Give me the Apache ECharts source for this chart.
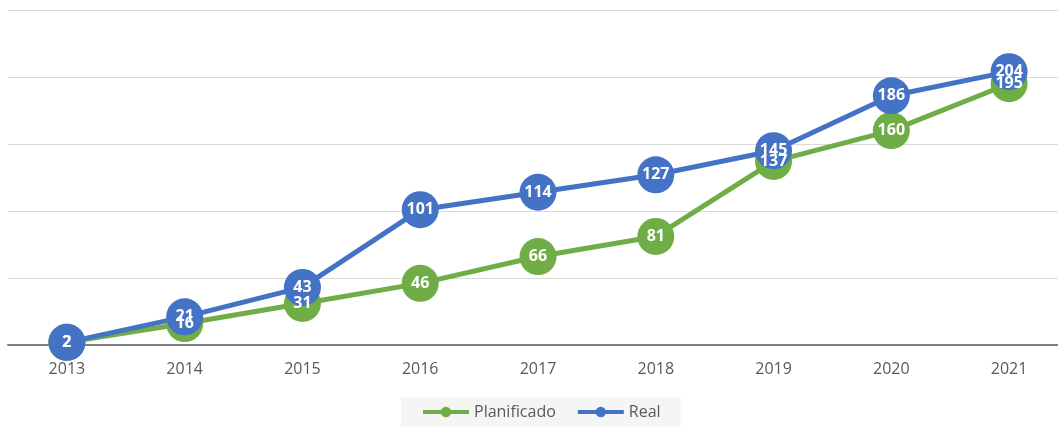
<!DOCTYPE html>
<html>
<head>
<meta charset="utf-8">
<script src="https://cdn.jsdelivr.net/npm/echarts@6/dist/echarts.min.js"></script>
<style>
  html, body { margin: 0; padding: 0; background: #fff; }
  #chart { width: 1058px; height: 428px; }
</style>
</head>
<body>
<div id="chart"></div>
<script>
// 年（カテゴリ）
const years = ['2013', '2014', '2015', '2016', '2017', '2018', '2019', '2020', '2021']
// 計画値と実績値
const planificado = [2, 16, 31, 46, 66, 81, 137, 160, 195]
const real = [2, 21, 43, 101, 114, 127, 145, 186, 204]

const GREEN = '#70AD47'
const BLUE = '#4472C4'

let myChart = echarts.init(document.getElementById('chart'))

// ラベル共通設定
const pointLabel = {
  show: true,
  position: 'inside',
  color: '#fff',
  fontFamily: 'Open Sans',
  fontWeight: 'bold',
  fontSize: 16
}

myChart.setOption({
  animation: false,
  // 右端は画面外まで伸ばす（元図が右で切れている）
  grid: { left: 8, top: 10, width: 1060, height: 335, containLabel: false, outerBoundsMode: 'none' },
  legend: {
    bottom: 1,
    left: 401,
    backgroundColor: '#f5f5f5',
    padding: [7, 20, 7, 20],
    itemGap: 20,
    itemWidth: 46,
    itemHeight: 13,
    lineStyle: { width: 4 },
    textStyle: { color: '#595959', fontFamily: 'Open Sans', fontSize: 16 },
    data: ['Planificado', 'Real']
  },
  xAxis: {
    type: 'category',
    data: years,
    axisLine: { lineStyle: { color: '#7f7f7f', width: 2 } },
    axisTick: { show: false },
    axisLabel: { color: '#595959', fontFamily: 'Open Sans', fontSize: 16, margin: 16 }
  },
  yAxis: {
    type: 'value',
    min: 0,
    max: 250,
    interval: 50,
    axisLabel: { show: false },
    axisLine: { show: false },
    axisTick: { show: false },
    splitLine: { lineStyle: { color: '#d9d9d9', width: 1 } }
  },
  series: [
    {
      name: 'Planificado',
      type: 'line',
      data: planificado,
      symbol: 'circle',
      symbolSize: 37,
      itemStyle: { color: GREEN },
      lineStyle: { color: GREEN, width: 5 },
      label: pointLabel
    },
    {
      name: 'Real',
      type: 'line',
      data: real,
      symbol: 'circle',
      symbolSize: 37,
      itemStyle: { color: BLUE },
      lineStyle: { color: BLUE, width: 5 },
      label: pointLabel
    }
  ]
})
</script>
</body>
</html>
